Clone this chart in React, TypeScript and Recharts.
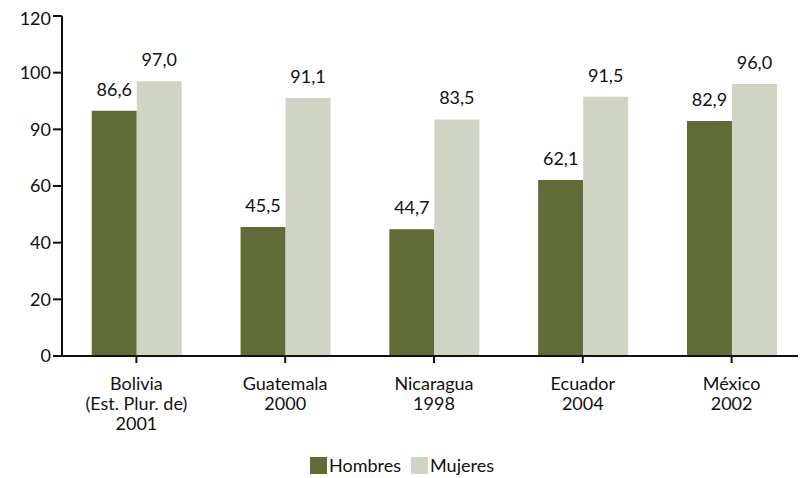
import { BarChart, Bar, XAxis, YAxis, Legend, LabelList } from "recharts";

const categories = [
  ["Bolivia", "(Est. Plur. de)", "2001"],
  ["Guatemala", "2000"],
  ["Nicaragua", "1998"],
  ["Ecuador", "2004"],
  ["México", "2002"],
];
const hombres = [86.6, 45.5, 44.7, 62.1, 82.9];
const mujeres = [97.0, 91.1, 83.5, 91.5, 96.0];
const yTicks = [0, 20, 40, 60, 80, 100, 120];
const yTickLabels = ["0", "20", "40", "60", "90", "100", "120"];

const data = categories.map((c, i) => ({
  name: c.join("\n"),
  hombres: hombres[i],
  mujeres: mujeres[i],
}));

const font = "Lato, 'Open Sans', sans-serif";
const dark = "#606b37";
const light = "#d0d4c4";

function CategoryTick({ x, y, payload }: any) {
  const lines = String(payload.value).split("\n");
  return (
    <text x={x} y={y + 25} textAnchor="middle" fill="#111" fontSize={18} fontFamily={font}>
      {lines.map((l, i) => (
        <tspan key={i} x={x} dy={i === 0 ? 0 : 20}>
          {l}
        </tspan>
      ))}
    </text>
  );
}

function LegendContent() {
  const items = [
    { label: "Hombres", color: dark },
    { label: "Mujeres", color: light },
  ];
  return (
    <div style={{ display: "flex", justifyContent: "center", fontFamily: font, fontSize: 18, color: "#111" }}>
      {items.map((it) => (
        <div key={it.label} style={{ display: "flex", alignItems: "center", marginRight: 10 }}>
          <span style={{ width: 17, height: 17, background: it.color, display: "inline-block", marginRight: 2 }} />
          <span>{it.label}</span>
        </div>
      ))}
    </div>
  );
}

export default function App() {
  return (
    <BarChart
      width={798}
      height={470}
      data={data}
      margin={{ top: 8, right: 0, left: 0, bottom: 0 }}
      barCategoryGap="20%"
      barGap={0}
    >
      <XAxis
        dataKey="name"
        tick={<CategoryTick />}
        tickLine={{ stroke: "#111", strokeWidth: 2 }}
        tickSize={7}
        axisLine={{ stroke: "#111", strokeWidth: 2 }}
        interval={0}
        height={100}
      />
      <YAxis
        domain={[0, 120]}
        ticks={yTicks}
        tickFormatter={(v: number) => yTickLabels[yTicks.indexOf(v)]}
        width={54}
        tickSize={9}
        tickLine={{ stroke: "#111", strokeWidth: 2 }}
        axisLine={{ stroke: "#111", strokeWidth: 2 }}
        tick={{ fill: "#111", fontSize: 18, fontFamily: font }}
      />
      <Legend verticalAlign="bottom" content={<LegendContent />} wrapperStyle={{ bottom: 2 }} />
      <Bar dataKey="hombres" fill={dark} isAnimationActive={false}>
        <LabelList
          dataKey="hombres"
          position="top"
          offset={15}
          formatter={(v: number) => v.toFixed(1).replace(".", ",")}
          style={{ fill: "#111", fontSize: 18, fontFamily: font }}
        />
      </Bar>
      <Bar dataKey="mujeres" fill={light} isAnimationActive={false}>
        <LabelList
          dataKey="mujeres"
          position="top"
          offset={15}
          formatter={(v: number) => v.toFixed(1).replace(".", ",")}
          style={{ fill: "#111", fontSize: 18, fontFamily: font }}
        />
      </Bar>
    </BarChart>
  );
}
